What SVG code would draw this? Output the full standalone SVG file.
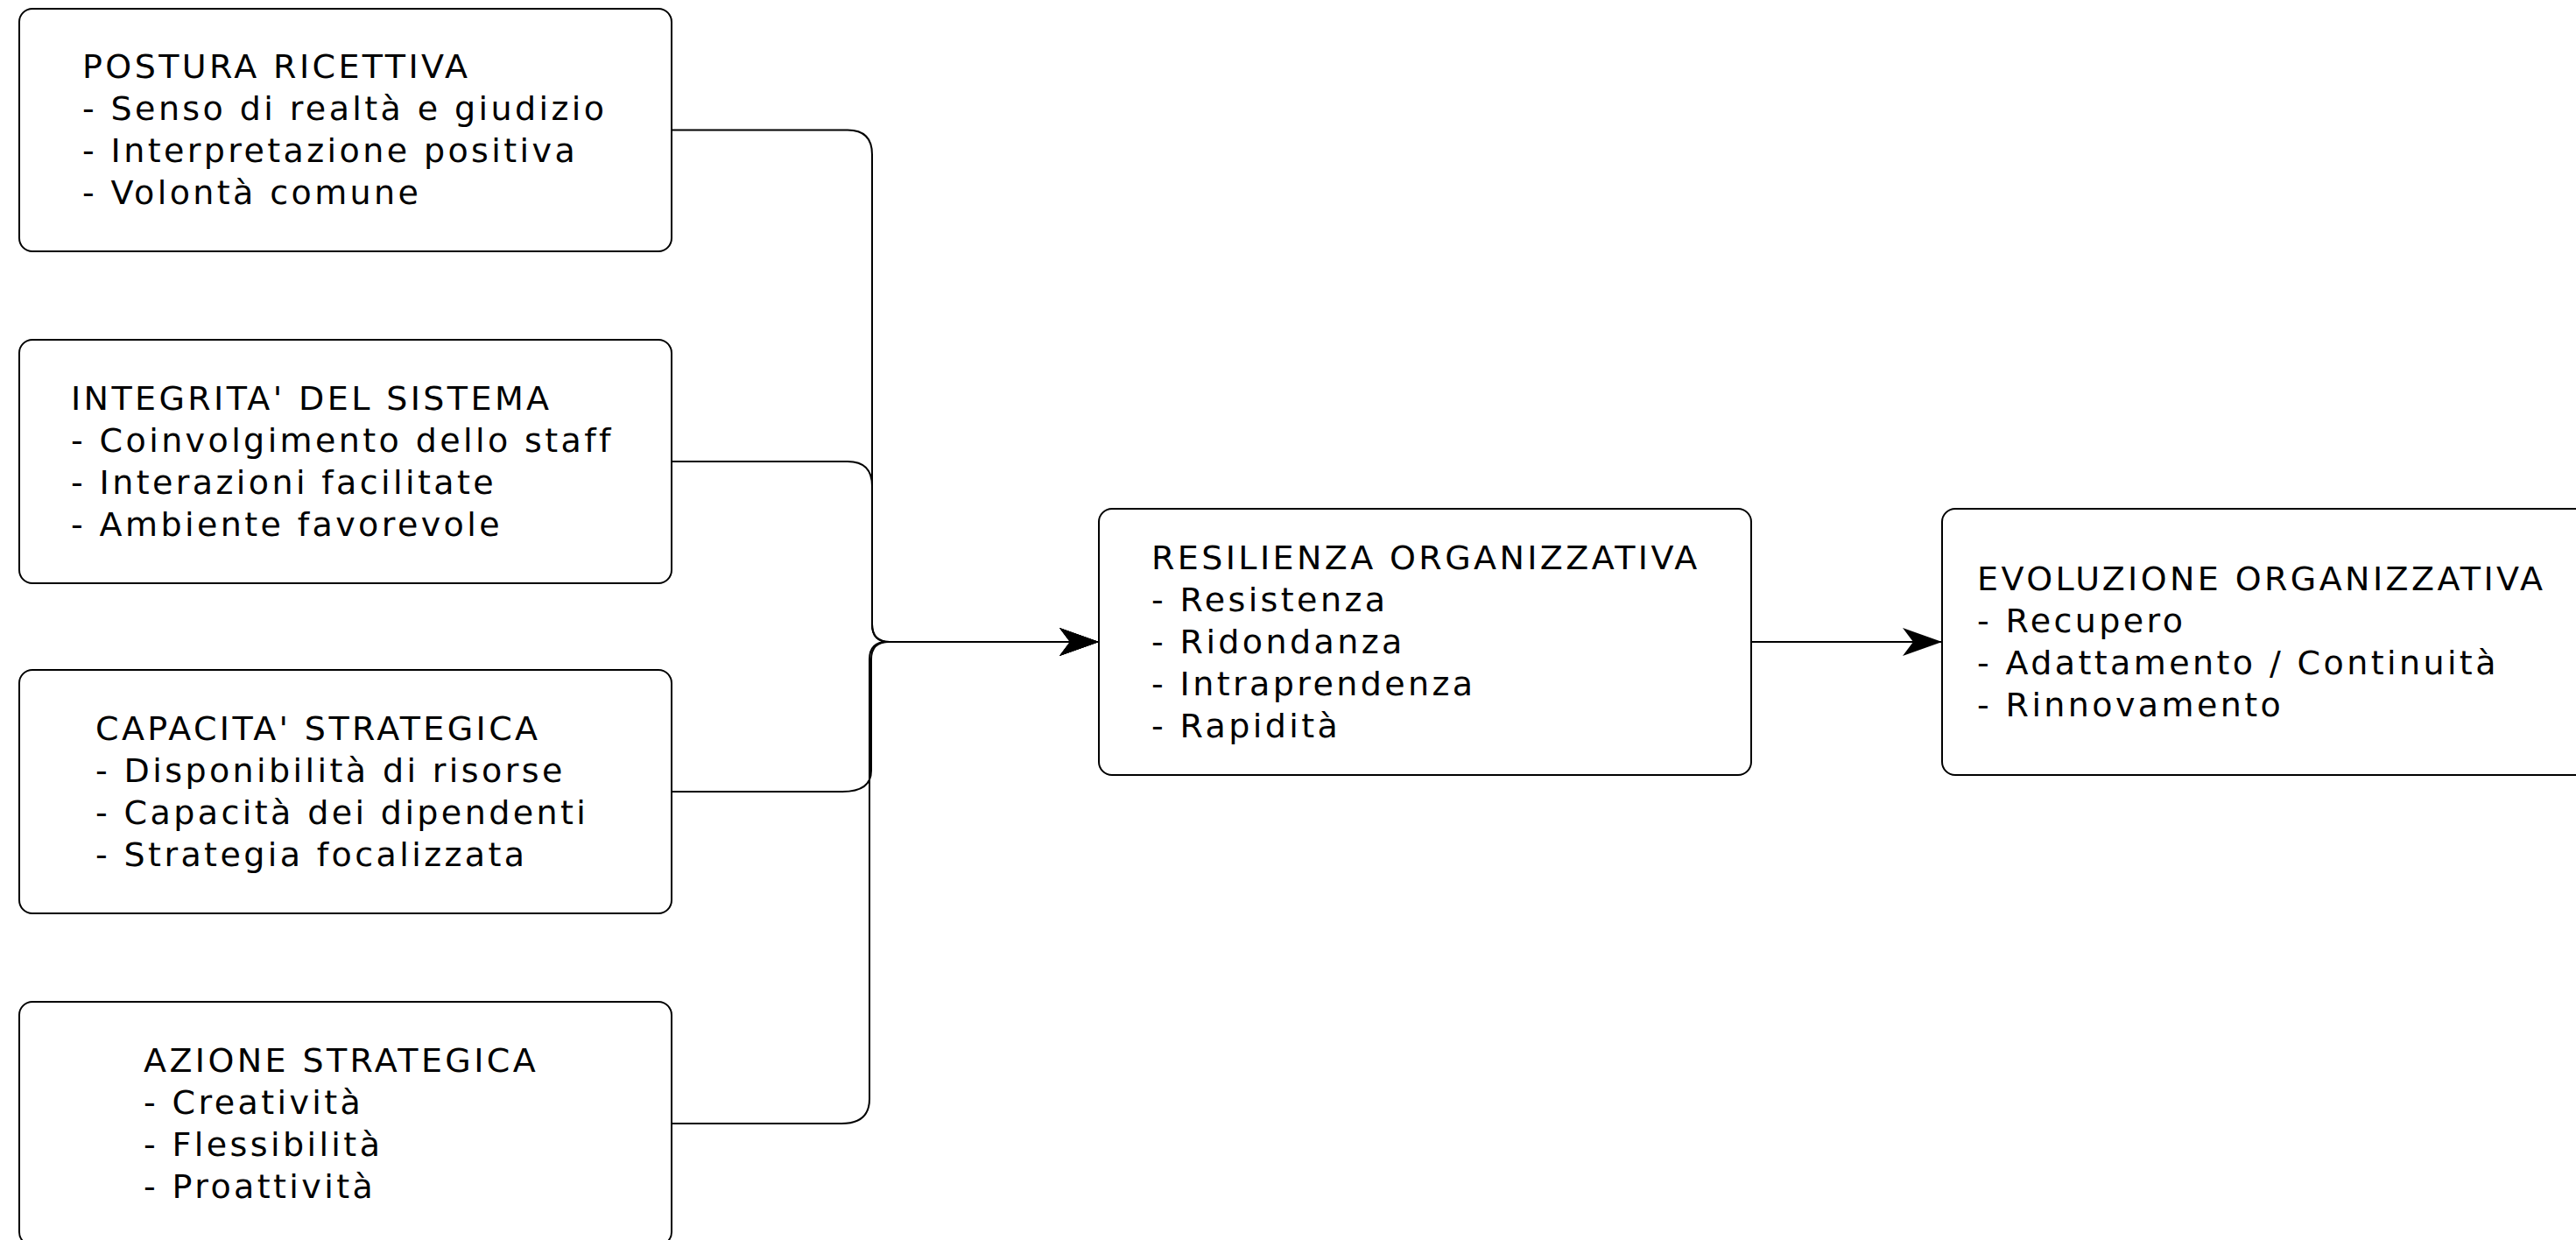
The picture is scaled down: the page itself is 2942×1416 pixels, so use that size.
<svg xmlns="http://www.w3.org/2000/svg" width="2942" height="1416" viewBox="0 0 2942 1416">
  <style>
    .box { fill: #ffffff; stroke: #000000; stroke-width: 2; }
    .lbl { font-family: "DejaVu Sans", "Liberation Sans", sans-serif; font-size: 38px; letter-spacing: 3.4px; fill: #000000; }
    .edge { fill: none; stroke: #000000; stroke-width: 2; marker-end: url(#arrow); }
  </style>
  <defs>
    <marker id="arrow" viewBox="-46 -17 47 34" refX="0" refY="0" markerWidth="47" markerHeight="34" markerUnits="userSpaceOnUse" orient="auto">
      <path d="M0,0 L-45,-16 L-33,0 L-45,16 Z" fill="#000000"/>
    </marker>
  </defs>
  <rect width="2942" height="1416" fill="#ffffff"/>

  <g id="connectors">
    <path class="edge" d="M767,148.5 H968 Q996,148.5 996,176.5 V713 Q996,733 1016,733 H1255"/>
    <path class="edge" d="M767,527 H968 Q996,527 996,555 V713 Q996,733 1016,733 H1255"/>
    <path class="edge" d="M767,904 H962 Q995,904 995,880 V753 Q995,733 1015,733 H1255"/>
    <path class="edge" d="M767,1283 H961 Q993,1283 993,1255 V753 Q993,733 1013,733 H1255"/>
    <path class="edge" d="M2000,733 H2218"/>
  </g>

  <g id="postura-ricettiva">
    <rect class="box" x="22" y="10" width="745" height="277" rx="15" ry="15"/>
    <text class="lbl">
      <tspan x="94" y="89">POSTURA RICETTIVA</tspan>
      <tspan x="94" y="137">- Senso di realtà e giudizio</tspan>
      <tspan x="94" y="185">- Interpretazione positiva</tspan>
      <tspan x="94" y="233">- Volontà comune</tspan>
    </text>
  </g>

  <g id="integrita-sistema">
    <rect class="box" x="22" y="388" width="745" height="278" rx="15" ry="15"/>
    <text class="lbl">
      <tspan x="81" y="468">INTEGRITA' DEL SISTEMA</tspan>
      <tspan x="81" y="516">- Coinvolgimento dello staff</tspan>
      <tspan x="81" y="564">- Interazioni facilitate</tspan>
      <tspan x="81" y="612">- Ambiente favorevole</tspan>
    </text>
  </g>

  <g id="capacita-strategica">
    <rect class="box" x="22" y="765" width="745" height="278" rx="15" ry="15"/>
    <text class="lbl">
      <tspan x="109" y="845">CAPACITA' STRATEGICA</tspan>
      <tspan x="109" y="893">- Disponibilità di risorse</tspan>
      <tspan x="109" y="941">- Capacità dei dipendenti</tspan>
      <tspan x="109" y="989">- Strategia focalizzata</tspan>
    </text>
  </g>

  <g id="azione-strategica">
    <rect class="box" x="22" y="1144" width="745" height="278" rx="15" ry="15"/>
    <text class="lbl">
      <tspan x="164" y="1224">AZIONE STRATEGICA</tspan>
      <tspan x="164" y="1272">- Creatività</tspan>
      <tspan x="164" y="1320">- Flessibilità</tspan>
      <tspan x="164" y="1368">- Proattività</tspan>
    </text>
  </g>

  <g id="resilienza-organizzativa">
    <rect class="box" x="1255" y="581" width="745" height="304" rx="15" ry="15"/>
    <text class="lbl">
      <tspan x="1315" y="650">RESILIENZA ORGANIZZATIVA</tspan>
      <tspan x="1315" y="698">- Resistenza</tspan>
      <tspan x="1315" y="746">- Ridondanza</tspan>
      <tspan x="1315" y="794">- Intraprendenza</tspan>
      <tspan x="1315" y="842">- Rapidità</tspan>
    </text>
  </g>

  <g id="evoluzione-organizzativa">
    <rect class="box" x="2218" y="581" width="745" height="304" rx="15" ry="15"/>
    <text class="lbl">
      <tspan x="2258" y="674">EVOLUZIONE ORGANIZZATIVA</tspan>
      <tspan x="2258" y="722">- Recupero</tspan>
      <tspan x="2258" y="770">- Adattamento / Continuità</tspan>
      <tspan x="2258" y="818">- Rinnovamento</tspan>
    </text>
  </g>
</svg>
